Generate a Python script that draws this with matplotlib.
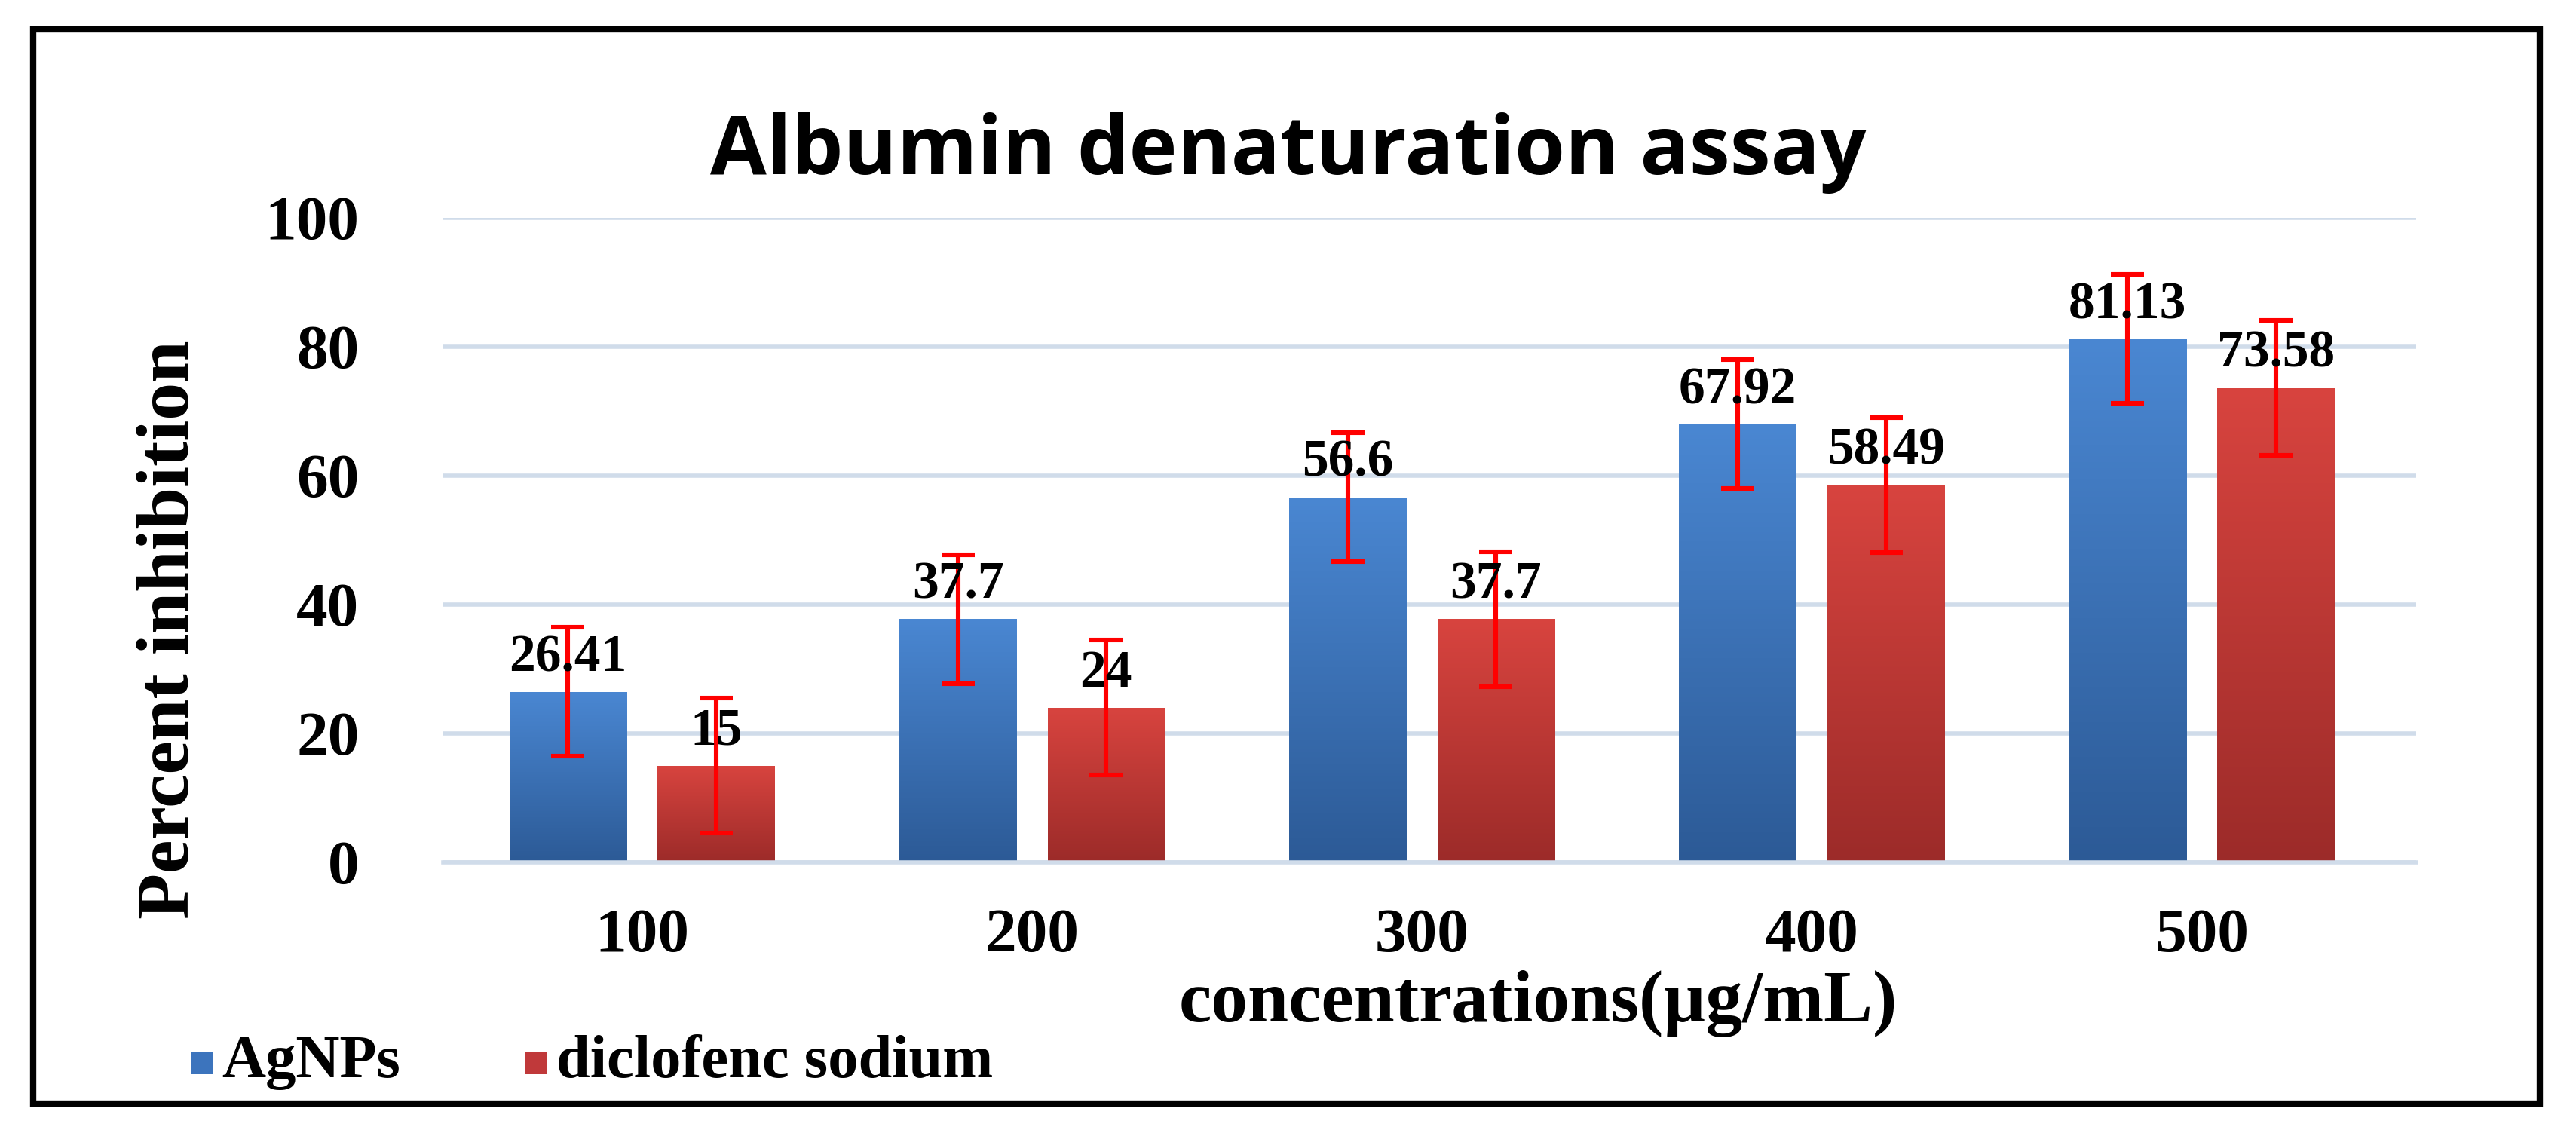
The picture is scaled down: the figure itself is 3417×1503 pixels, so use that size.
import numpy as np
import matplotlib.pyplot as plt
from matplotlib.patches import Rectangle
from matplotlib.colors import LinearSegmentedColormap

concentrations = ["100", "200", "300", "400", "500"]
agnps = [26.41, 37.7, 56.6, 67.92, 81.13]
diclofenac = [15, 24, 37.7, 58.49, 73.58]
err_agnps = [10, 10, 10, 10, 10]
err_diclo = [10.5, 10.5, 10.5, 10.5, 10.5]

serif = "Liberation Serif"
fig = plt.figure(figsize=(3417 / 200, 1503 / 200), dpi=200)
ax = fig.add_axes([0.172, 0.239, 0.766, 0.569])

x = np.arange(len(concentrations))
w = 0.30
off = 0.19

blue_cm = LinearSegmentedColormap.from_list("b", ["#2c5a96", "#4a87d2"])
red_cm = LinearSegmentedColormap.from_list("r", ["#9c2b29", "#d8443f"])
grad = np.linspace(0, 1, 256).reshape(-1, 1)


def gradient_bars(xs, vals, cmap):
    for xi, v in zip(xs, vals):
        r = Rectangle((xi - w / 2, 0), w, v, facecolor="none", edgecolor="none")
        ax.add_patch(r)
        im = ax.imshow(grad, extent=(xi - w / 2, xi + w / 2, 0, v), origin="lower",
                       cmap=cmap, aspect="auto", zorder=2)
        im.set_clip_path(r)


gradient_bars(x - off, agnps, blue_cm)
gradient_bars(x + off, diclofenac, red_cm)
ax.errorbar(x - off, agnps, yerr=err_agnps, fmt="none", ecolor="#ff0000",
            elinewidth=2.2, capsize=8, capthick=2.2, zorder=4)
ax.errorbar(x + off, diclofenac, yerr=err_diclo, fmt="none", ecolor="#ff0000",
            elinewidth=2.2, capsize=8, capthick=2.2, zorder=4)

for xi, v in zip(x - off, agnps):
    ax.text(xi, v + 1.5, f"{v:g}", ha="center", va="bottom", fontsize=25,
            fontweight="bold", family=serif, zorder=5)
for xi, v in zip(x + off, diclofenac):
    ax.text(xi, v + 1.5, f"{v:g}", ha="center", va="bottom", fontsize=25,
            fontweight="bold", family=serif, zorder=5)

ax.set_xlim(-0.51, 4.55)
ax.set_ylim(0, 100)
ax.set_yticks(range(0, 101, 20))
ax.set_xticks(x)
ax.set_xticklabels(concentrations)
ax.grid(axis="y", color="#d0dcea", linewidth=2, zorder=0)
ax.set_axisbelow(True)
for s in ["top", "right", "left"]:
    ax.spines[s].set_visible(False)
ax.spines["bottom"].set_color("#d0dcea")
ax.spines["bottom"].set_linewidth(2)
ax.tick_params(axis="x", length=0, pad=22)
ax.tick_params(axis="y", length=0, pad=40)
for lab in ax.get_xticklabels() + ax.get_yticklabels():
    lab.set_fontsize(30)
    lab.set_fontweight("bold")
    lab.set_family(serif)

fig.text(0.066, 0.444, "Percent inhibition", rotation=90, ha="center", va="center",
         fontsize=36, fontweight="bold", family=serif)
fig.text(0.597, 0.114, "concentrations(µg/mL)", ha="center", va="center",
         fontsize=35, fontweight="bold", family=serif)
fig.text(0.50, 0.865, "Albumin denaturation assay", ha="center", va="center",
         fontsize=39, fontweight="bold", family="Open Sans")

# legend
for lx, col, name in [(0.074, "#3c74bd", "AgNPs"), (0.204, "#c0393a", "diclofenc sodium")]:
    fig.patches.append(Rectangle((lx, 0.052), 0.0085, 0.02, transform=fig.transFigure,
                                 facecolor=col, edgecolor="none"))
    fig.text(lx + 0.012, 0.062, name, ha="left", va="center", fontsize=29,
             fontweight="bold", family=serif)

fig.patches.append(Rectangle((0.013, 0.026), 0.973, 0.948, transform=fig.transFigure,
                             facecolor="none", edgecolor="black", linewidth=3))

fig.savefig("out.png", dpi=200)
